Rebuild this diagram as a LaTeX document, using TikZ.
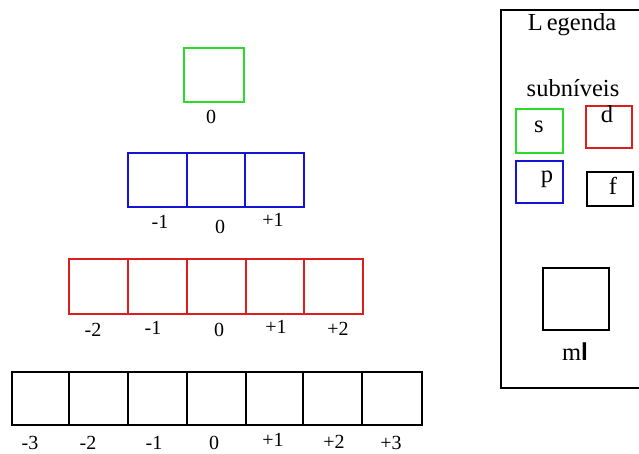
\documentclass[tikz,border=0pt]{standalone}
\usepackage{fontspec}
\setmainfont{Liberation Serif}
\newfontfamily\barfont{Liberation Sans}
\definecolor{sgreen}{RGB}{40,220,40}
\definecolor{pblue}{RGB}{20,20,210}
\definecolor{dred}{RGB}{220,30,30}
\begin{document}
\begin{tikzpicture}[x=1pt,y=-1pt,
  cell/.style={draw,line width=2pt,outer sep=0pt,inner sep=0pt,anchor=north west},
  keybox/.style={draw,line width=2pt,outer sep=0pt,inner sep=0pt,anchor=north west},
  lab/.style={font=\fontsize{20}{20}\selectfont,inner sep=0pt},
  leg/.style={font=\fontsize{24.5}{24.5}\selectfont,inner sep=0pt}]
\useasboundingbox (0,0) rectangle (639,454);
% s row
\node[cell,draw=sgreen,minimum width=60pt,minimum height=54pt] (s0) at (184,48) {};
\node[lab] (ls0) at (211,117) {0};
% p row
\foreach \x/\w [count=\i from 0] in {128/59,187/58,245/59}
  {\node[cell,draw=pblue,minimum width=\w pt,minimum height=54pt] (p\i) at (\x,153) {};}
\node[lab] (lp0) at (160,222) {-1};
\node[lab] (lp1) at (220,227) {0};
\node[lab] (lp2) at (273,220) {+1};
% d row
\foreach \x/\w [count=\i from 0] in {69/59,128/59,187/59,246/58,304/59}
  {\node[cell,draw=dred,minimum width=\w pt,minimum height=55pt] (d\i) at (\x,259) {};}
\node[lab] (ld0) at (93,330) {-2};
\node[lab] (ld1) at (153,328) {-1};
\node[lab] (ld2) at (219,330) {0};
\node[lab] (ld3) at (276,327) {+1};
\node[lab] (ld4) at (338,329) {+2};
% f row
\foreach \x/\w [count=\i from 0] in {12/57,69/59,128/59,187/59,246/57,303/59,362/60}
  {\node[cell,draw=black,minimum width=\w pt,minimum height=53pt] (f\i) at (\x,372) {};}
\node[lab] (lf0) at (30,443) {-3};
\node[lab] (lf1) at (88,443) {-2};
\node[lab] (lf2) at (154,443) {-1};
\node[lab] (lf3) at (214,443) {0};
\node[lab] (lf4) at (273,440) {+1};
\node[lab] (lf5) at (334,442) {+2};
\node[lab] (lf6) at (391,443) {+3};
% legend
\coordinate (lgA) at (640,10);
\coordinate (lgB) at (501,10);
\coordinate (lgC) at (501,388);
\coordinate (lgD) at (640,388);
\draw[line width=2pt] (lgA) -- (lgB) -- (lgC) -- (lgD);
\node[leg] (legenda) at (572,25) {L\,egenda};
\node[leg] (subn) at (573,88) {subníveis};
\node[keybox,draw=sgreen,minimum width=47pt,minimum height=44pt] (ks) at (516,109) {};
\node[leg] (ts) at (539,127) {s};
\node[keybox,draw=dred,minimum width=46pt,minimum height=42pt] (kd) at (586,106) {};
\node[leg] (td) at (607,114) {d};
\node[keybox,draw=pblue,minimum width=47pt,minimum height=42pt] (kp) at (516,161) {};
\node[leg] (tp) at (547,179) {p};
\node[keybox,draw=black,minimum width=46pt,minimum height=34pt] (kf) at (587,172) {};
\node[leg] (tf) at (613,186) {f};
\node[keybox,draw=black,minimum width=66pt,minimum height=62pt] (kml) at (543,268) {};
\node[leg,anchor=base] (mllab) at (575,360) {m{\barfont\bfseries l}};
\end{tikzpicture}
\end{document}
